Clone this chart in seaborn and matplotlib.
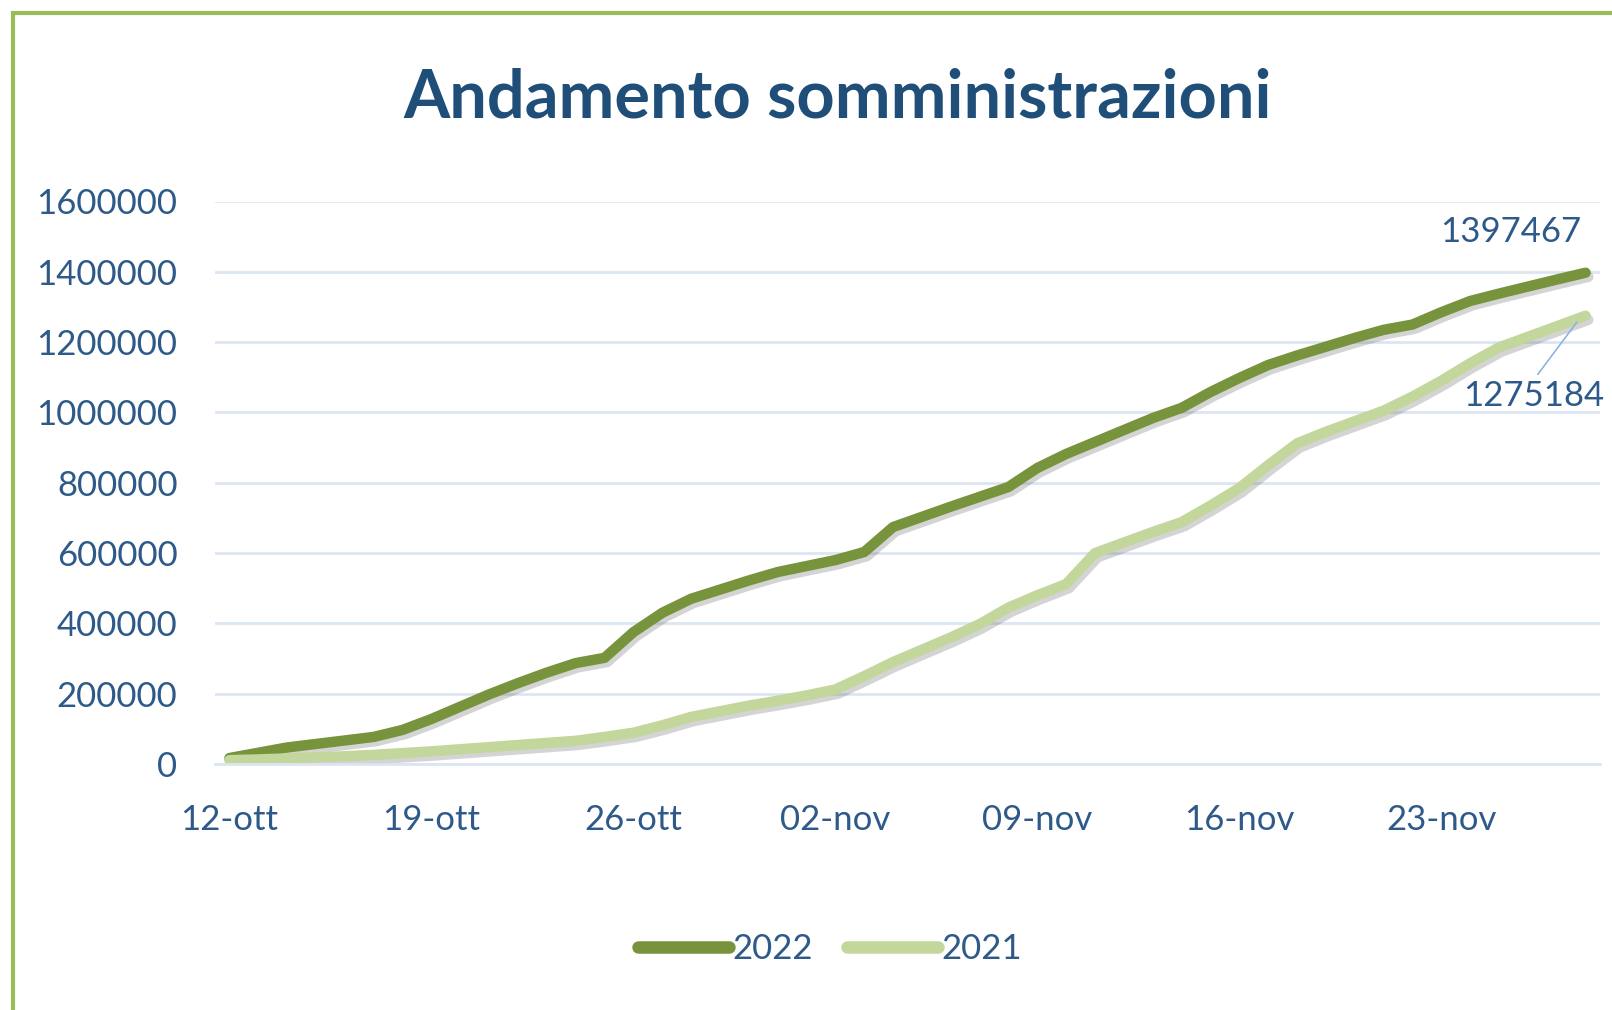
import numpy as np
import pandas as pd
import seaborn as sns
import matplotlib.pyplot as plt
import matplotlib.patheffects as pe
from matplotlib.patches import Rectangle
from matplotlib.lines import Line2D

# daily cumulative administrations, 12-ott .. 28-nov
dosi_2022 = [17000, 32000, 47000, 57000, 67000, 77000, 97000, 128000, 163000, 198000,
             230000, 260000, 287000, 302000, 375000, 430000, 470000, 496000, 522000, 546000,
             563000, 580000, 603000, 674000, 703000, 732000, 760000, 788000, 842000, 882000,
             916000, 950000, 984000, 1013000, 1058000, 1098000, 1135000, 1162000, 1187000, 1212000,
             1235000, 1250000, 1285000, 1317000, 1338000, 1358000, 1378000, 1397467]
dosi_2021 = [11000, 13000, 16000, 19000, 22000, 26000, 31000, 36000, 42000, 48000,
             54000, 60000, 66000, 77000, 89000, 110000, 134000, 150000, 166000, 180000,
             195000, 212000, 250000, 290000, 325000, 360000, 398000, 445000, 480000, 512000,
             600000, 630000, 660000, 688000, 735000, 785000, 850000, 912000, 945000, 975000,
             1005000, 1045000, 1090000, 1140000, 1185000, 1215000, 1245000, 1275184]
tick_labels = ["12-ott", "19-ott", "26-ott", "02-nov", "09-nov", "16-nov", "23-nov"]
anni = ["2022", "2021"]
colori = {"2022": "#77933C", "2021": "#C3D69B"}

testo = "#2E5A8A"
griglia = "#DCE6F2"

n = len(dosi_2022)
df = pd.DataFrame({
    "giorno": list(range(n)) * 2,
    "dosi": dosi_2022 + dosi_2021,
    "anno": ["2022"] * n + ["2021"] * n,
})

sns.set_style("white")
plt.rcParams["font.family"] = ["Lato", "DejaVu Sans"]

fig = plt.figure(figsize=(16.12, 10.10), dpi=100)
ax = fig.add_axes([215 / 1612, 1 - 764 / 1010, (1600 - 215) / 1612, (764 - 201.5) / 1010])

sns.lineplot(data=df, x="giorno", y="dosi", hue="anno", hue_order=anni,
             palette=colori, linewidth=7.5, ax=ax, legend=False)
for ln in ax.lines:
    ln.set_solid_capstyle("round")
    ln.set_solid_joinstyle("round")
    ln.set_path_effects([pe.SimpleLineShadow(offset=(2, -3), shadow_color="#555555", alpha=0.25),
                         pe.Normal()])

ax.set_xlim(-0.5, n - 0.5)
ax.set_ylim(0, 1600000)
ax.set_yticks(np.arange(0, 1600001, 200000))
ax.set_yticklabels([str(v) for v in range(0, 1600001, 200000)])
ax.yaxis.grid(True, color=griglia, linewidth=2)
ax.set_axisbelow(True)

ax.set_xticks(np.arange(0, n, 7))
ax.set_xticklabels(tick_labels)
ax.set_xticks(np.arange(-0.5, n - 1, 7), minor=True)
ax.tick_params(axis="x", which="major", length=0, pad=29, labelsize=25, labelcolor=testo)
ax.tick_params(axis="x", which="minor", length=10, width=2, color=griglia, direction="out")
ax.tick_params(axis="y", length=0, pad=27, labelsize=25, labelcolor=testo)

for s in ["top", "right", "left"]:
    ax.spines[s].set_visible(False)
ax.spines["bottom"].set_color(griglia)
ax.spines["bottom"].set_linewidth(2)
ax.set_xlabel("")
ax.set_ylabel("")

# data labels on the last point
ax.annotate(str(dosi_2022[-1]), xy=(n - 1, dosi_2022[-1]), xytext=(44.4, 1513000),
            ha="center", va="center", fontsize=25, color=testo)
ax.annotate(str(dosi_2021[-1]), xy=(n - 1.3, 1257000), xytext=(45.2, 1047000),
            ha="center", va="center", fontsize=25, color=testo,
            arrowprops=dict(arrowstyle="-", color="#8DB3E2", linewidth=1.2,
                            shrinkA=2, shrinkB=0, relpos=(0.5, 1.0)),
            annotation_clip=False)

fig.text(838 / 1612, 1 - 98 / 1010, "Andamento somministrazioni", ha="center", va="center",
         fontsize=48, fontweight="bold", color="#1F4E79")

handles = [Line2D([], [], color=colori[a], linewidth=9, solid_capstyle="round") for a in anni]
fig.legend(handles, anni, loc="center", bbox_to_anchor=(830 / 1612, 1 - 949 / 1010),
           ncol=2, frameon=False, fontsize=25, labelcolor=testo,
           handlelength=2.6, handletextpad=0.1, columnspacing=1.0)

fig.patches.append(Rectangle((13 / 1612, -0.05), 1.2, 1 - 13 / 1010 + 0.05,
                             transform=fig.transFigure, fill=False,
                             edgecolor="#9BBB59", linewidth=3))

fig.savefig("out.png", dpi=100)
